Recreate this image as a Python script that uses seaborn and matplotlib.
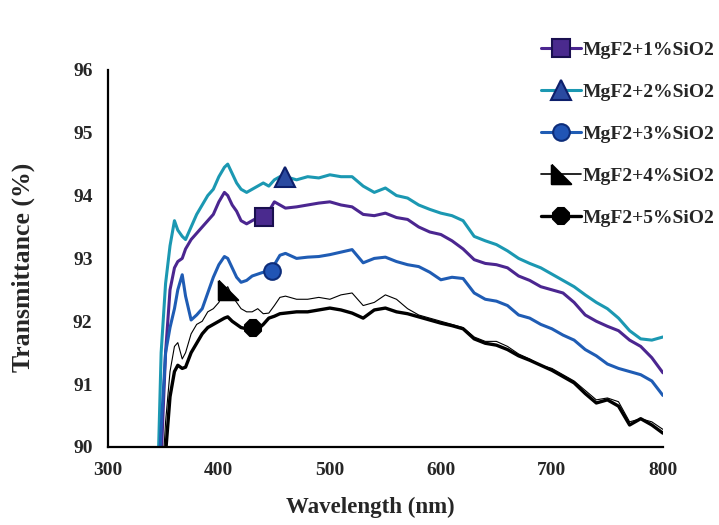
import numpy as np
import pandas as pd
import matplotlib
matplotlib.use('Agg')
import matplotlib.pyplot as plt
from matplotlib.lines import Line2D
import seaborn as sns

# wavelength grid (nm)
wavelength = [345, 348, 352, 356, 360, 363, 367, 370, 375, 380, 385, 390, 395, 400,
              405, 408, 412, 416, 420, 425, 430, 435, 440, 445, 450, 455, 460, 470,
              480, 490, 500, 510, 520, 530, 540, 550, 560, 570, 580, 590, 600, 610,
              620, 630, 640, 650, 660, 670, 680, 690, 700, 710, 720, 730, 740, 750,
              760, 770, 780, 790, 800]

t_1pct = [89.0, 89.8, 91.5, 92.5, 92.85, 92.95, 93.0, 93.15, 93.3, 93.4, 93.5, 93.6, 93.7, 93.9,
          94.05, 94.0, 93.85, 93.75, 93.6, 93.55, 93.6, 93.65, 93.68, 93.75, 93.9, 93.85, 93.8, 93.82,
          93.85, 93.88, 93.9, 93.85, 93.82, 93.7, 93.68, 93.72, 93.65, 93.62, 93.5, 93.42, 93.38, 93.28,
          93.15, 92.98, 92.92, 92.9, 92.85, 92.72, 92.65, 92.55, 92.5, 92.45, 92.3, 92.1, 92.0, 91.92,
          91.85, 91.7, 91.6, 91.42, 91.18]

t_2pct = [89.5, 91.5, 92.6, 93.2, 93.6, 93.45, 93.35, 93.3, 93.5, 93.7, 93.85, 94.0, 94.1, 94.3,
          94.45, 94.5, 94.35, 94.2, 94.1, 94.05, 94.1, 94.15, 94.2, 94.15, 94.25, 94.3, 94.3, 94.25,
          94.3, 94.28, 94.33, 94.3, 94.3, 94.15, 94.05, 94.12, 94.0, 93.96, 93.85, 93.78, 93.72, 93.68,
          93.6, 93.35, 93.28, 93.22, 93.12, 93.0, 92.92, 92.85, 92.75, 92.65, 92.55, 92.42, 92.3, 92.2,
          92.05, 91.85, 91.72, 91.7, 91.75]

t_3pct = [89.2, 90.3, 91.5, 91.9, 92.2, 92.5, 92.74, 92.4, 92.02, 92.1, 92.2, 92.45, 92.7, 92.9,
          93.03, 93.0, 92.85, 92.7, 92.62, 92.65, 92.72, 92.75, 92.78, 92.8, 92.9, 93.05, 93.08, 93.0,
          93.02, 93.03, 93.06, 93.1, 93.14, 92.93, 93.0, 93.02, 92.95, 92.9, 92.87, 92.78, 92.66, 92.7,
          92.68, 92.45, 92.35, 92.32, 92.25, 92.1, 92.05, 91.95, 91.88, 91.78, 91.7, 91.55, 91.45, 91.32,
          91.25, 91.2, 91.15, 91.05, 90.82]

t_4pct = [88.5, 89.2, 90.4, 91.2, 91.6, 91.66, 91.4, 91.5, 91.8, 91.95, 92.0, 92.15, 92.2, 92.3,
          92.5, 92.55, 92.4, 92.3, 92.2, 92.15, 92.15, 92.2, 92.12, 92.13, 92.25, 92.38, 92.4, 92.35,
          92.35, 92.38, 92.35, 92.42, 92.45, 92.25, 92.3, 92.42, 92.35, 92.2, 92.1, 92.05, 92.0, 91.95,
          91.9, 91.75, 91.68, 91.68, 91.6, 91.48, 91.4, 91.3, 91.25, 91.15, 91.05, 90.9, 90.75, 90.78,
          90.72, 90.4, 90.45, 90.4, 90.28]

t_5pct = [88.0, 88.7, 89.9, 90.8, 91.2, 91.3, 91.25, 91.27, 91.5, 91.65, 91.8, 91.9, 91.95, 92.0,
          92.05, 92.07, 92.0, 91.95, 91.9, 91.88, 91.86, 91.87, 91.95, 92.05, 92.08, 92.12, 92.13, 92.15,
          92.15, 92.18, 92.21, 92.18, 92.13, 92.05, 92.18, 92.21, 92.15, 92.12, 92.07, 92.02, 91.97, 91.93,
          91.88, 91.72, 91.65, 91.62, 91.55, 91.45, 91.38, 91.3, 91.22, 91.12, 91.02, 90.85, 90.7, 90.75,
          90.65, 90.35, 90.45, 90.35, 90.22]

labels = ['MgF2+1%SiO2', 'MgF2+2%SiO2', 'MgF2+3%SiO2', 'MgF2+4%SiO2', 'MgF2+5%SiO2']
# single marker placed on each curve (wavelength, transmittance)
marker_x = [441, 460, 448, 408, 431]
marker_y = [93.66, 94.3, 92.8, 92.5, 91.9]

series = [t_1pct, t_2pct, t_3pct, t_4pct, t_5pct]
line_colors = ['#4b2690', '#1b98b2', '#1f5cb4', '#000000', '#000000']
line_widths = [2.2, 2.2, 2.2, 0.8, 2.4]
face_colors = ['#4a2a8e', '#2a4aa0', '#2155b5', '#000000', '#000000']
edge_colors = ['#1a1050', '#0d1f6b', '#0d2d7a', '#000000', '#000000']
right_tri = [(-1, 1), (-1, -1), (1, -1), (-1, 1)]
markers = ['s', '^', 'o', right_tri, '8']
msizes = [13, 14, 12, 14, 13]

sns.set_style('white')
plt.rcParams['font.family'] = ['Liberation Serif', 'DejaVu Serif']
plt.rcParams['font.weight'] = 'bold'

fig = plt.figure(figsize=(7.19, 5.25), dpi=100)
ax = fig.add_axes([0.150, 0.1486, 0.772, 0.7184])

# draw curves: 2% (top) first so the others sit on top as in the original
order = [1, 0, 2, 3, 4]
for i in order:
    df = pd.DataFrame({'Wavelength': wavelength, 'T': series[i]})
    sns.lineplot(data=df, x='Wavelength', y='T', ax=ax, color=line_colors[i],
                 lw=line_widths[i], estimator=None, sort=False)

for i in range(5):
    ax.plot([marker_x[i]], [marker_y[i]], linestyle='none', marker=markers[i],
            ms=msizes[i], mfc=face_colors[i], mec=edge_colors[i], mew=1.5, zorder=5)

ax.set_xlim(300, 800)
ax.set_ylim(90, 96)
ax.set_xticks([300, 400, 500, 600, 700, 800])
ax.set_yticks([90, 91, 92, 93, 94, 95, 96])
ax.tick_params(length=0, labelsize=14, pad=11)
for lab in ax.get_xticklabels() + ax.get_yticklabels():
    lab.set_fontweight('bold')

for side in ['top', 'right']:
    ax.spines[side].set_visible(False)
for side in ['left', 'bottom']:
    ax.spines[side].set_color('black')
    ax.spines[side].set_linewidth(1.6)

ax.set_xlabel('Wavelength (nm)', fontsize=16.5, fontweight='bold')
ax.set_ylabel('Transmittance (%)', fontsize=18.5, fontweight='bold')
ax.xaxis.set_label_coords(0.472, -0.133)
ax.yaxis.set_label_coords(-0.131, 0.477)

handles = []
for i in range(5):
    handles.append(Line2D([0], [0], color=line_colors[i], lw=line_widths[i] if i != 3 else 1.2,
                          marker=markers[i], ms=msizes[i], mfc=face_colors[i],
                          mec=edge_colors[i], mew=1.5))
leg = fig.legend(handles, labels, loc='upper left', bbox_to_anchor=(0.752, 0.922),
                 frameon=False, fontsize=14, handlelength=2.05, handletextpad=0.12,
                 labelspacing=1.26, borderpad=0, borderaxespad=0)
for t in leg.get_texts():
    t.set_fontweight('bold')

fig.savefig('out.png', dpi=100)
